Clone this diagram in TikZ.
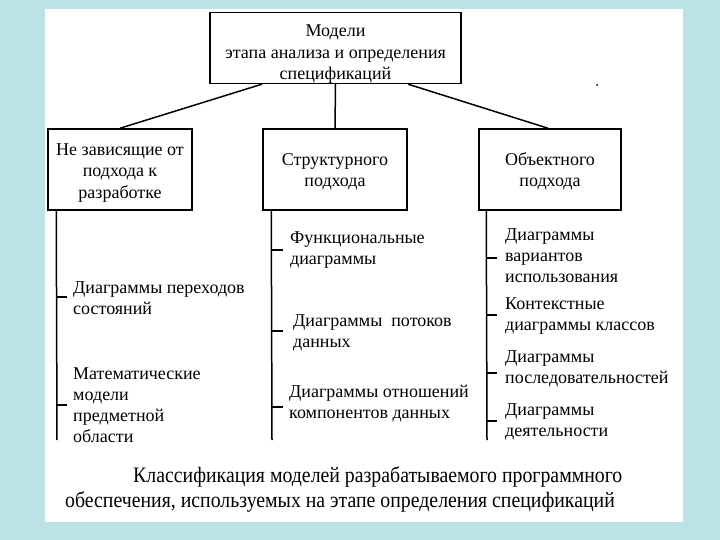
\documentclass[tikz,border=0pt]{standalone}
\usepackage{fontspec}
\setmainfont{Liberation Serif}
\definecolor{bgblue}{RGB}{189,226,229}
\begin{document}
\begin{tikzpicture}[x=1pt,y=-1pt,
  box/.style={draw,line width=1.5pt,align=center,inner sep=0pt,font=\fontsize{18}{21.5}\selectfont},
  item/.style={anchor=west,align=left,inner sep=0pt,font=\fontsize{18}{21}\selectfont},
  conn/.style={line width=1.5pt},
  tickline/.style={line width=1.3pt},
  captext/.style={anchor=west,inner sep=0pt,font=\fontsize{22}{25}\selectfont}]
\fill[bgblue] (0,0) rectangle (720,540);
\fill[white] (45,9) rectangle (683,522);
\useasboundingbox (0,0) rectangle (720,540);

\node[box,minimum width=251pt,minimum height=70pt] (top) at (335.5,48)
  {\rule{0pt}{24pt}Модели\\этапа анализа и определения\\спецификаций};
\node[box,minimum width=144pt,minimum height=81pt] (left) at (120,169.5)
  {\rule{0pt}{18pt}Не зависящие от\\подхода к\\разработке};
\node[box,minimum width=144pt,minimum height=81pt] (mid) at (335,169.5)
  {\rule{0pt}{16pt}Структурного\\подхода};
\node[box,minimum width=142pt,minimum height=81pt] (right) at (550,169.5)
  {\rule{0pt}{16pt}Объектного\\подхода};

\draw[conn] ([xshift=-73.5pt]top.south) -- (left.north);
\draw[conn] (top.south) -- (mid.north);
\draw[conn] ([xshift=72.5pt]top.south) -- ([xshift=-2pt]right.north);

\coordinate (lb) at (57,440);
\coordinate (mb) at (272,440);
\coordinate (rb) at (487,440);
\draw[conn] ([xshift=9pt]left.south west) -- (lb);
\draw[conn] ([xshift=9pt]mid.south west) -- (mb);
\draw[conn] ([xshift=8pt]right.south west) -- (rb);

% left items
\node[item] (l1) at (73,298) {Диаграммы переходов\\состояний};
\node[item] (l2) at (73,405) {Математические\\модели\\предметной\\области};
% middle items
\node[item] (m1) at (290,250) {Функциональные\\диаграммы};
\node[item] (m2) at (293,333) {Диаграммы \ потоков\\данных};
\node[item] (m3) at (289,404) {Диаграммы отношений\\компонентов данных};
% right items
\node[item] (r1) at (505,256) {Диаграммы\\вариантов\\использования};
\node[item] (r2) at (505,316) {Контекстные\\диаграммы классов};
\node[item] (r3) at (505,369) {Диаграммы\\последовательностей};
\node[item] (r4) at (505,422) {Диаграммы\\деятельности};

\coordinate (lt1) at (57,297);
\coordinate (lt2) at (57,405);
\coordinate (mt1) at (272,250);
\coordinate (mt2) at (272,331);
\coordinate (mt3) at (272,407);
\coordinate (rt1) at (487,258);
\coordinate (rt2) at (487,315);
\coordinate (rt3) at (487,373);
\coordinate (rt4) at (487,421);
\draw[tickline,shorten >=6pt] (lt1) -- (lt1 -| l1.west);
\draw[tickline,shorten >=6pt] (lt2) -- (lt2 -| l2.west);
\draw[tickline,shorten >=7pt] (mt1) -- (mt1 -| m1.west);
\draw[tickline,shorten >=10pt] (mt2) -- (mt2 -| m2.west);
\draw[tickline,shorten >=6pt] (mt3) -- (mt3 -| m3.west);
\draw[tickline,shorten >=8pt] (rt1) -- (rt1 -| r1.west);
\draw[tickline,shorten >=8pt] (rt2) -- (rt2 -| r2.west);
\draw[tickline,shorten >=8pt] (rt3) -- (rt3 -| r3.west);
\draw[tickline,shorten >=8pt] (rt4) -- (rt4 -| r4.west);

\fill (597,85) circle (1pt);

\node[captext] (c1) at (133,477) {\scalebox{0.9}[1]{Классификация моделей разрабатываемого программного}};
\node[captext] (c2) at (65,502) {\scalebox{0.9}[1]{обеспечения, используемых на этапе определения спецификаций}};
\end{tikzpicture}
\end{document}
